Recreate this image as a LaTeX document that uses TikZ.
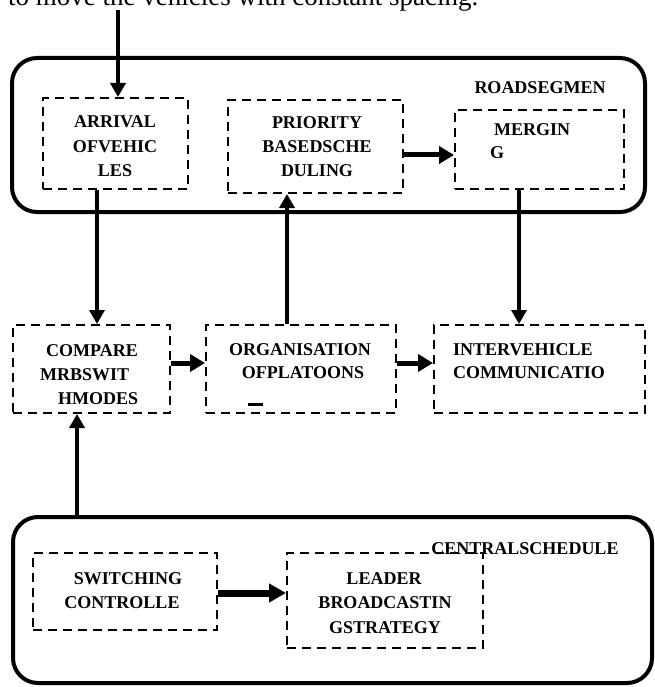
\documentclass[tikz,border=0pt]{standalone}
\usepackage{fontspec}
\setmainfont{Liberation Serif}
\usetikzlibrary{arrows.meta}
\tikzset{
  dbox/.style={draw, line width=2pt, dash pattern=on 9pt off 6pt, inner sep=0pt, fill=none},
  obox/.style={draw, line width=4pt, rounded corners=25pt},
  lbl/.style={inner sep=0pt, anchor=base, font=\bfseries\fontsize{18}{22}\selectfont},
  lblw/.style={inner sep=0pt, anchor=base west, font=\bfseries\fontsize{18}{22}\selectfont},
  vconn/.style={line width=4pt, -{Triangle[length=14pt,width=15pt]}},
  hconn/.style={line width=5pt, -{Triangle[length=15pt,width=17pt]}},
  hconnb/.style={line width=7pt, -{Triangle[length=17pt,width=18pt]}},
}
\begin{document}
\begin{tikzpicture}[x=1pt,y=-1pt]
\useasboundingbox (0,0) rectangle (654,687);
% top sentence (cut off)
\node[inner sep=0pt, anchor=base west, font=\fontsize{27}{30}\selectfont] (sent) at (8,6) {to move the vehicles with constant spacing.};
% outer boxes
\node[obox, minimum width=633, minimum height=154] (road) at (328.5,135) {};
\node[obox, minimum width=639, minimum height=166] (central) at (332.5,600) {};
\node[lbl] (roadlbl) at (540,94) {ROADSEGMEN};
\node[lbl] (centrallbl) at (525,554) {CENTRALSCHEDULE};
% top row boxes
\node[dbox, minimum width=145, minimum height=91] (arr) at (115.5,143.5) {};
\node[dbox, minimum width=175, minimum height=93] (pri) at (315.5,146.5) {};
\node[dbox, minimum width=169, minimum height=79] (mer) at (539.5,149.5) {};
\node[lbl] (arr1) at (115,128) {ARRIVAL};
\node[lbl] (arr2) at (115,153) {OFVEHIC};
\node[lbl] (arr3) at (115,176) {LES};
\node[lbl] (pri1) at (317,129) {PRIORITY};
\node[lbl] (pri2) at (317,153) {BASEDSCHE};
\node[lbl] (pri3) at (317,176) {DULING};
\node[lblw] (mer1) at (494,136) {MERGIN};
\node[lblw] (mer2) at (490,158) {G};
% middle row boxes
\node[dbox, minimum width=157, minimum height=88] (cmp) at (91.5,369) {};
\node[dbox, minimum width=190, minimum height=88] (org) at (301,369) {};
\node[dbox, minimum width=211, minimum height=88] (ivc) at (539.5,369) {};
\node[lbl] (cmp1) at (92,356) {COMPARE};
\node[lblw] (cmp2) at (40,380) {MRBSWIT};
\node[lblw] (cmp3) at (58,404) {HMODES};
\node[lbl] (org1) at (300,355) {ORGANISATION};
\node[lbl] (org2) at (303,378) {OFPLATOONS};
\fill (248,402.5) rectangle (263,406);
\node[lblw] (ivc1) at (453,355) {INTERVEHICLE};
\node[lblw] (ivc2) at (453,378) {COMMUNICATIO};
% bottom boxes
\node[dbox, minimum width=184, minimum height=77] (sw) at (125,591.5) {};
\node[dbox, minimum width=196, minimum height=95] (lead) at (385,600.5) {};
\node[lbl] (sw1) at (128,584) {SWITCHING};
\node[lbl] (sw2) at (122,608) {CONTROLLE};
\node[lbl] (lead1) at (384,584) {LEADER};
\node[lbl] (lead2) at (385,608) {BROADCASTIN};
\node[lbl] (lead3) at (385,633) {GSTRATEGY};
% connectors
\coordinate (topin) at (118,10);
\draw[vconn] (topin) -- (arr.north -| topin);
\draw[vconn] (arr.south -| 97,0) -- (cmp.north -| 97,0);
\draw[vconn] (org.north -| 287,0) -- (pri.south -| 287,0);
\draw[vconn] (mer.south -| 519,0) -- (ivc.north -| 519,0);
\draw[vconn] (central.north -| 77,0) -- (cmp.south -| 77,0);
\draw[hconn] (pri.east |- 0,155) -- (mer.west |- 0,155);
\draw[hconn] (cmp.east |- 0,363) -- (org.west |- 0,363);
\draw[hconn] (org.east |- 0,363) -- (ivc.west |- 0,363);
\draw[hconnb] (sw.east |- 0,593) -- (lead.west |- 0,593);
\end{tikzpicture}
\end{document}
